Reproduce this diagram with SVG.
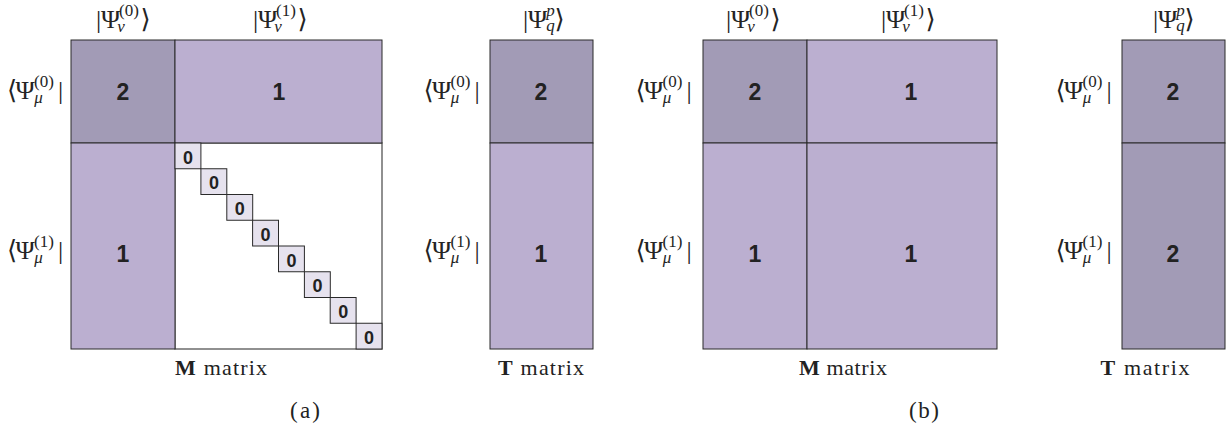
<svg xmlns="http://www.w3.org/2000/svg" width="1232" height="430" viewBox="0 0 1232 430">
<style>
.bg{fill:#ffffff}
.dk{fill:#a29bb6;stroke:#2a2a2a;stroke-width:1}
.lt{fill:#bbafd0;stroke:#2a2a2a;stroke-width:1}
.wh{fill:#ffffff;stroke:#555;stroke-width:1.3}
.zb{fill:#e6e2ee;stroke:#2a2a2a;stroke-width:1}
.l{font-family:"Liberation Serif","DejaVu Serif",serif;font-size:26px;text-anchor:middle;fill:#222;opacity:0.99}
.s{font-size:17px}
.i{font-style:italic}
.n{font-family:"Liberation Sans",Arial,sans-serif;font-weight:bold;font-size:23px;text-anchor:middle;fill:#222}
.z{font-size:18px}
.c{font-family:"Liberation Serif","DejaVu Serif",serif;font-size:22px;text-anchor:middle;fill:#222}
.b{font-weight:bold}
</style>
<defs>
<g id="ket0"><text class="l" x="-12">|</text><text class="l" x="0">Ψ</text><text class="l s" x="18.5" y="-12">(0)</text><text class="l s i" x="10.5" y="4">ν</text><text class="l" x="35" y="0">⟩</text></g>
<g id="ket1"><text class="l" x="-12">|</text><text class="l" x="0">Ψ</text><text class="l s" x="18.5" y="-12">(1)</text><text class="l s i" x="10.5" y="4">ν</text><text class="l" x="35" y="0">⟩</text></g>
<g id="ketp"><text class="l" x="-12">|</text><text class="l" x="0">Ψ</text><text class="l s i" x="13" y="-12">p</text><text class="l s i" x="13" y="3">q</text><text class="l" x="22" y="0">⟩</text></g>
<g id="bra0"><text class="l" x="-13">⟨</text><text class="l" x="0">Ψ</text><text class="l s" x="19" y="-12">(0)</text><text class="l s i" x="13.5" y="4">μ</text><text class="l" x="35.5">|</text></g>
<g id="bra1"><text class="l" x="-13">⟨</text><text class="l" x="0">Ψ</text><text class="l s" x="19" y="-12">(1)</text><text class="l s i" x="13.5" y="4">μ</text><text class="l" x="35.5">|</text></g>
</defs>
<rect class="bg" x="0" y="0" width="1232" height="430"/>

<g id="panel-a-M">
<rect class="wh" x="175" y="143" width="207" height="206"/>
<rect class="dk" x="71" y="40" width="104" height="103"/>
<rect class="lt" x="175" y="40" width="207" height="103"/>
<rect class="lt" x="71" y="143" width="104" height="206"/>
<text class="n" x="123" y="100">2</text>
<text class="n" x="279" y="100">1</text>
<text class="n" x="123" y="262">1</text>
</g>
<g id="diag-a">
<rect class="zb" x="175" y="143" width="25.9" height="25.75"/>
<rect class="zb" x="200.9" y="168.75" width="25.9" height="25.75"/>
<rect class="zb" x="226.8" y="194.5" width="25.9" height="25.75"/>
<rect class="zb" x="252.6" y="220.25" width="25.9" height="25.75"/>
<rect class="zb" x="278.5" y="246" width="25.9" height="25.75"/>
<rect class="zb" x="304.4" y="271.75" width="25.9" height="25.75"/>
<rect class="zb" x="330.2" y="297.5" width="25.9" height="25.75"/>
<rect class="zb" x="356.1" y="323.25" width="25.9" height="25.75"/>
<text class="n z" x="188" y="163.5">0</text>
<text class="n z" x="214" y="189.3">0</text>
<text class="n z" x="239.8" y="215">0</text>
<text class="n z" x="265.6" y="240.8">0</text>
<text class="n z" x="291.5" y="266.5">0</text>
<text class="n z" x="317.4" y="292.3">0</text>
<text class="n z" x="343.2" y="318">0</text>
<text class="n z" x="369.1" y="343.8">0</text>
</g>
<g id="labels-a-M">
<use href="#ket0" x="110.5" y="28"/>
<use href="#ket1" x="267.5" y="28"/>
<use href="#bra0" x="25" y="99"/>
<use href="#bra1" x="25" y="259"/>
<text class="c" x="221" y="375" textLength="92" lengthAdjust="spacing"><tspan class="b">M</tspan> matrix</text>
</g>

<g id="panel-a-T">
<rect class="dk" x="490" y="40" width="103" height="103"/>
<rect class="lt" x="490" y="143" width="103" height="206"/>
<text class="n" x="541" y="100">2</text>
<text class="n" x="541" y="262">1</text>
<use href="#ketp" x="537.5" y="28"/>
<use href="#bra0" x="441.5" y="99"/>
<use href="#bra1" x="441.5" y="259"/>
<text class="c" x="541" y="375" textLength="86" lengthAdjust="spacing"><tspan class="b">T</tspan> matrix</text>
</g>
<text class="c" x="305" y="418" style="font-size:23px" textLength="30" lengthAdjust="spacing">(a)</text>

<g id="panel-b-M">
<rect class="dk" x="703" y="40" width="104" height="103"/>
<rect class="lt" x="807" y="40" width="190" height="103"/>
<rect class="lt" x="703" y="143" width="104" height="206"/>
<rect class="lt" x="807" y="143" width="190" height="206"/>
<text class="n" x="755" y="100">2</text>
<text class="n" x="911" y="100">1</text>
<text class="n" x="755" y="262">1</text>
<text class="n" x="911" y="262">1</text>
<use href="#ket0" x="740.5" y="28"/>
<use href="#ket1" x="895.5" y="28"/>
<use href="#bra0" x="653.5" y="99"/>
<use href="#bra1" x="653.5" y="259"/>
<text class="c" x="843" y="375" textLength="88" lengthAdjust="spacing"><tspan class="b">M</tspan> matrix</text>
</g>

<g id="panel-b-T">
<rect class="dk" x="1122" y="40" width="103" height="103"/>
<rect class="dk" x="1122" y="143" width="103" height="206"/>
<text class="n" x="1173" y="100">2</text>
<text class="n" x="1173" y="262">2</text>
<use href="#ketp" x="1167.5" y="28"/>
<use href="#bra0" x="1073.5" y="99"/>
<use href="#bra1" x="1073.5" y="259"/>
<text class="c" x="1145" y="375" textLength="89" lengthAdjust="spacing"><tspan class="b">T</tspan> matrix</text>
</g>
<text class="c" x="924" y="418" style="font-size:23px" textLength="30" lengthAdjust="spacing">(b)</text>
</svg>
